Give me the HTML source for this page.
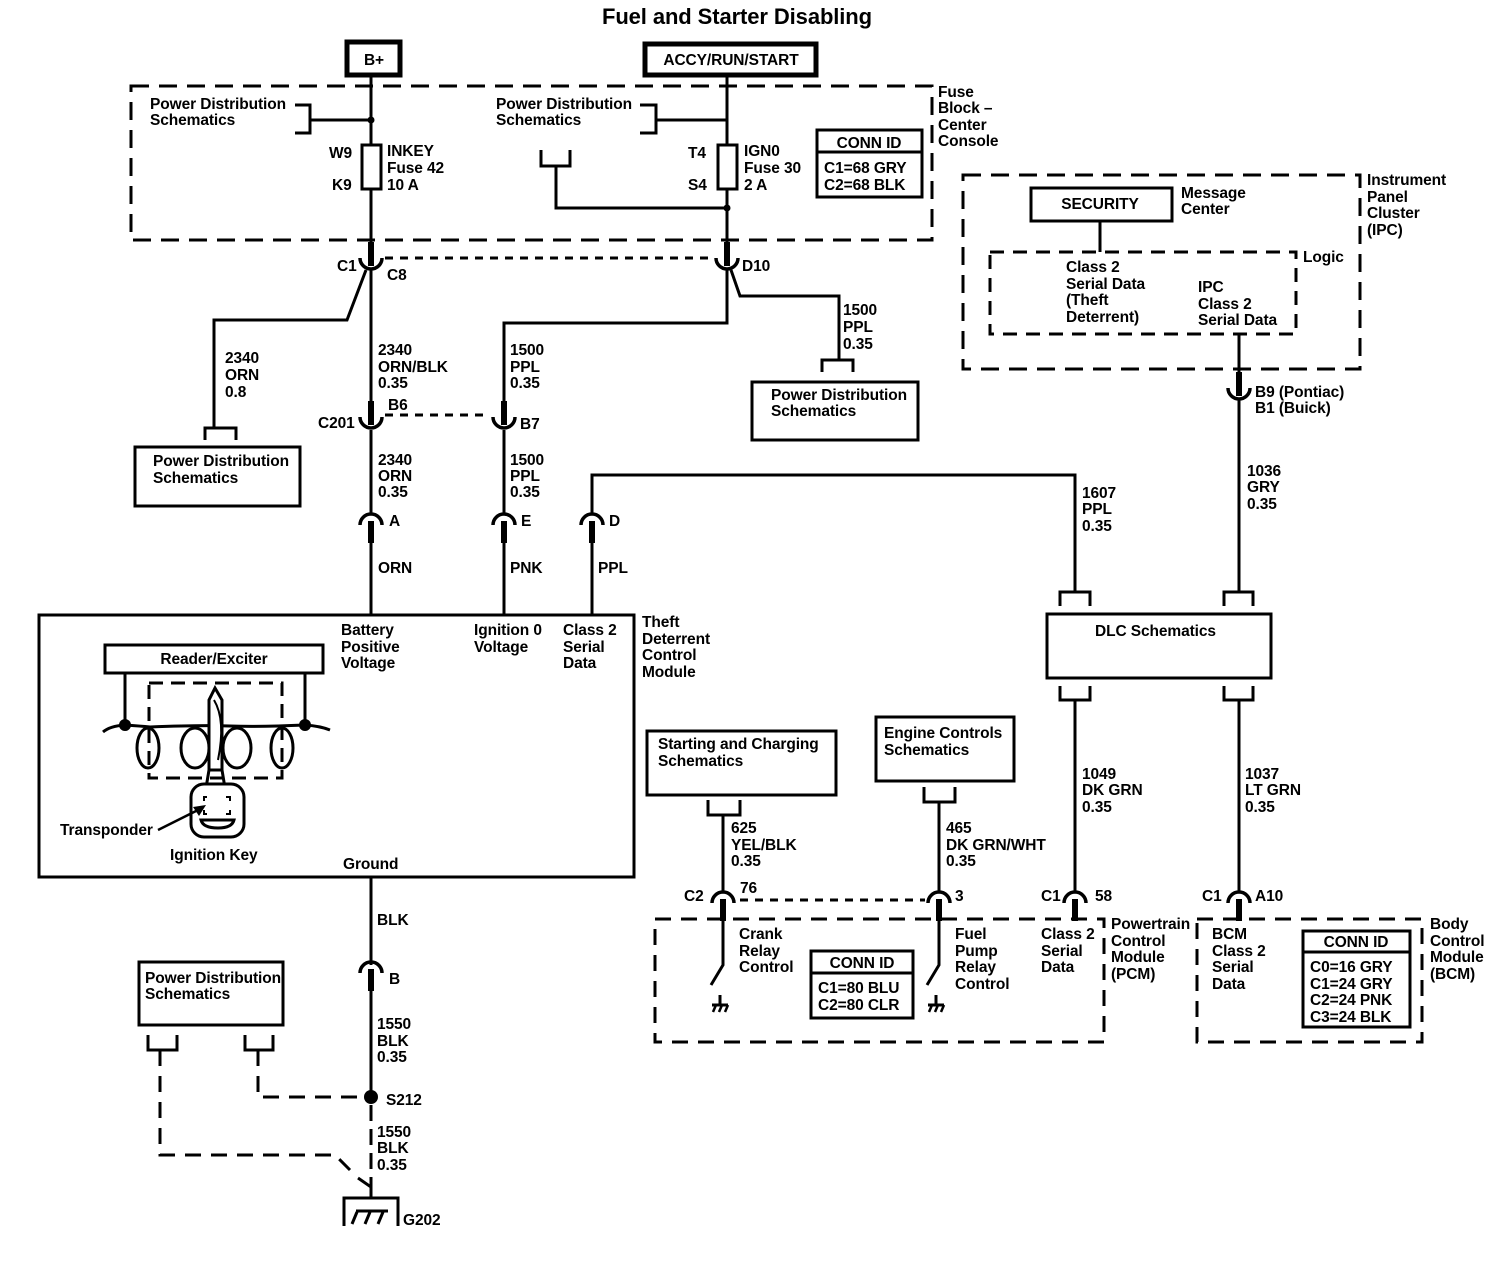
<!DOCTYPE html>
<html><head><meta charset="utf-8"><style>
html,body{margin:0;padding:0;background:#fff}
svg{display:block}
text{font-family:"Liberation Sans",sans-serif;font-weight:bold;font-size:15.5px;fill:#000;letter-spacing:-0.1px}
</style></head><body>
<svg width="1502" height="1264" viewBox="0 0 1502 1264" xmlns="http://www.w3.org/2000/svg">
<defs>
<g id="cup"><path d="M-11,0 A11,11 0 0 0 11,0" fill="none" stroke="#000" stroke-width="3.5"/><rect x="-3" y="-16" width="6" height="24" fill="#000"/></g>
<g id="cap"><path d="M-11,0 A11,11 0 0 1 11,0" fill="none" stroke="#000" stroke-width="3.5"/><rect x="-3" y="-4" width="6" height="22" fill="#000"/></g>
<g id="gnd"><line x1="0" y1="0" x2="0" y2="10" stroke="#000" stroke-width="3"/><line x1="-8" y1="10" x2="8" y2="10" stroke="#000" stroke-width="3"/><path d="M-7,17 L-4,10 M-1,17 L2,10 M5,17 L8,10" stroke="#000" stroke-width="2.5"/></g>
</defs>
<g fill="none" stroke="#000" stroke-width="3">
<rect x="347" y="42" width="53" height="33" stroke-width="5"/>
<rect x="645" y="44" width="171" height="31" stroke-width="5"/>
<rect x="131" y="86" width="801" height="154" stroke-dasharray="18,10"/>
<line x1="371" y1="77" x2="371" y2="245"/>
<line x1="727" y1="77" x2="727" y2="245"/>
<rect x="362" y="145" width="19" height="44" fill="#fff"/>
<rect x="718" y="145" width="19" height="44" fill="#fff"/>
<path d="M295,105 H310 V133 H295 M310,120 H371"/>
<path d="M640,105 H656 V133 H640 M656,120 H727"/>
<path d="M541,150 V166 H570 V150 M556,166 V208 H727"/>
<rect x="817" y="130" width="105" height="67"/>
<line x1="817" y1="152" x2="922" y2="152"/>
<line x1="385" y1="258" x2="712" y2="258" stroke-dasharray="8,7"/>
<path d="M371,268 V405"/>
<path d="M366,270 L347,320 H214 V428"/>
<path d="M205,440 V428 H236 V440"/>
<rect x="135" y="447" width="165" height="59"/>
<path d="M731,270 L740,296 H839 V360"/>
<path d="M822,372 V360 H853 V372"/>
<rect x="752" y="382" width="166" height="58"/>
<path d="M727,268 V323 H504 V405"/>
<line x1="385" y1="415" x2="490" y2="415" stroke-dasharray="8,7"/>
<path d="M371,430 V515 M504,430 V515"/>
<path d="M592,515 V475 H1075 V592"/>
<path d="M371,540 V615 M504,540 V615 M592,540 V615"/>
<rect x="39" y="615" width="595" height="262"/>
<rect x="105" y="645" width="218" height="28"/>
<path d="M125,673 V725 M305,673 V725"/>
<path d="M103,732 Q110,726 125,725 Q140,726 150,727 Q200,725 230,726 Q260,727 305,725 Q320,726 330,730"/>
<rect x="149" y="683" width="133" height="95" stroke-dasharray="14,8"/>
<ellipse cx="148" cy="748" rx="11" ry="20"/>
<ellipse cx="195" cy="748" rx="14" ry="20"/>
<ellipse cx="237" cy="748" rx="14" ry="20"/>
<ellipse cx="282" cy="748" rx="11" ry="20"/>
<path d="M209,770 V700 L215,688 L222,700 V770 Z" fill="#fff"/>
<path d="M214,700 Q226,720 218,760" stroke-width="2"/>
<path d="M209,770 L206,788 M222,770 L225,788"/>
<rect x="191" y="784" width="53" height="53" rx="13" fill="#fff"/>
<path d="M201,820 H234 Q232,828 218,828 Q203,828 201,820 Z" fill="#fff"/>
<path d="M207,797 h-3 v4 M226,797 h4 v4 M207,814 h-3 v-4 M226,814 h4 v-4" stroke-width="2"/>
<path d="M158,830 L198,810" stroke-width="2.5"/>
<path d="M371,877 V965 M371,985 V1097"/>
<line x1="371" y1="1105" x2="371" y2="1195" stroke-dasharray="16,8"/>
<rect x="139" y="962" width="144" height="63"/>
<path d="M148,1035 V1050 H177 V1035 M245,1035 V1050 H273 V1035"/>
<path d="M160,1050 V1155 H335 L350,1170" stroke-dasharray="16,10"/>
<path d="M258,1050 V1097 H371" stroke-dasharray="16,10"/>
<path d="M344,1226 V1198 H398 V1226 M371,1198 V1187 L358,1178"/>
<path d="M352,1224 L357,1212 M365,1224 L370,1212 M378,1224 L383,1212" stroke-width="3"/>
<line x1="356" y1="1211" x2="388" y2="1211"/>
<rect x="963" y="175" width="397" height="194" stroke-dasharray="18,10"/>
<rect x="1031" y="188" width="141" height="33"/>
<line x1="1100" y1="221" x2="1100" y2="252"/>
<rect x="990" y="252" width="306" height="82" stroke-dasharray="14,9"/>
<path d="M1239,334 V380 M1239,400 V592"/>
<path d="M1060,606 V592 H1090 V606 M1224,606 V592 H1253 V606"/>
<rect x="1047" y="614" width="224" height="64"/>
<path d="M1060,686 V700 H1090 V686 M1224,686 V700 H1253 V686"/>
<path d="M1075,700 V893 M1239,700 V893"/>
<rect x="647" y="731" width="189" height="64"/>
<path d="M708,800 V815 H740 V800 M723,815 V893"/>
<rect x="876" y="717" width="138" height="64"/>
<path d="M924,787 V802 H955 V787 M939,802 V893"/>
<line x1="740" y1="900" x2="925" y2="900" stroke-dasharray="8,7"/>
<path d="M723,910 V965 L711,985 M939,910 V965 L927,985"/>
<rect x="655" y="919" width="449" height="123" stroke-dasharray="16,10"/>
<rect x="811" y="951" width="102" height="67"/>
<line x1="811" y1="973" x2="913" y2="973"/>
<rect x="1197" y="919" width="225" height="123" stroke-dasharray="16,10"/>
<rect x="1303" y="931" width="107" height="96"/>
<line x1="1303" y1="952" x2="1410" y2="952"/>
</g>
<polygon points="206,805 193,807 199,816"/>
<circle cx="371" cy="120" r="3.5"/><circle cx="727" cy="208" r="3.5"/>
<circle cx="125" cy="725" r="6"/><circle cx="305" cy="725" r="6"/>
<circle cx="371" cy="1097" r="7"/>
<use href="#cup" x="371" y="258"/><use href="#cup" x="727" y="258"/>
<use href="#cup" x="371" y="417"/><use href="#cup" x="504" y="417"/>
<use href="#cup" x="1239" y="388"/>
<use href="#cap" x="371" y="525"/><use href="#cap" x="504" y="525"/><use href="#cap" x="592" y="525"/>
<use href="#cap" x="371" y="973"/>
<use href="#cap" x="723" y="903"/><use href="#cap" x="939" y="903"/>
<use href="#cap" x="1075" y="903"/><use href="#cap" x="1239" y="903"/>
<use href="#gnd" x="720" y="995"/><use href="#gnd" x="936" y="995"/>

<text x="737" y="24" text-anchor="middle" style="font-size:22px">Fuel and Starter Disabling</text>
<text x="374" y="65" text-anchor="middle">B+</text>
<text x="731" y="65" text-anchor="middle">ACCY/RUN/START</text>
<text x="150" y="109">Power Distribution</text><text x="150" y="125">Schematics</text>
<text x="496" y="109">Power Distribution</text><text x="496" y="125">Schematics</text>
<text x="329" y="158">W9</text><text x="332" y="190">K9</text>
<text x="387" y="156">INKEY</text><text x="387" y="173">Fuse 42</text><text x="387" y="190">10 A</text>
<text x="688" y="158">T4</text><text x="688" y="190">S4</text>
<text x="744" y="156">IGN0</text><text x="744" y="173">Fuse 30</text><text x="744" y="190">2 A</text>
<text x="869" y="148" text-anchor="middle">CONN ID</text>
<text x="824" y="173">C1=68 GRY</text><text x="824" y="190">C2=68 BLK</text>
<text x="938" y="97">Fuse</text><text x="938" y="113">Block –</text><text x="938" y="130">Center</text><text x="938" y="146">Console</text>
<text x="337" y="271">C1</text><text x="387" y="280">C8</text><text x="742" y="271">D10</text>
<text x="225" y="363">2340</text><text x="225" y="380">ORN</text><text x="225" y="397">0.8</text>
<text x="378" y="355">2340</text><text x="378" y="372">ORN/BLK</text><text x="378" y="388">0.35</text>
<text x="510" y="355">1500</text><text x="510" y="372">PPL</text><text x="510" y="388">0.35</text>
<text x="843" y="315">1500</text><text x="843" y="332">PPL</text><text x="843" y="349">0.35</text>
<text x="153" y="466">Power Distribution</text><text x="153" y="483">Schematics</text>
<text x="771" y="400">Power Distribution</text><text x="771" y="416">Schematics</text>
<text x="318" y="428">C201</text><text x="388" y="410">B6</text><text x="520" y="429">B7</text>
<text x="378" y="465">2340</text><text x="378" y="481">ORN</text><text x="378" y="497">0.35</text>
<text x="510" y="465">1500</text><text x="510" y="481">PPL</text><text x="510" y="497">0.35</text>
<text x="389" y="526">A</text><text x="521" y="526">E</text><text x="609" y="526">D</text>
<text x="378" y="573">ORN</text><text x="510" y="573">PNK</text><text x="598" y="573">PPL</text>
<text x="1082" y="498">1607</text><text x="1082" y="514">PPL</text><text x="1082" y="531">0.35</text>
<text x="341" y="635">Battery</text><text x="341" y="652">Positive</text><text x="341" y="668">Voltage</text>
<text x="474" y="635">Ignition 0</text><text x="474" y="652">Voltage</text>
<text x="563" y="635">Class 2</text><text x="563" y="652">Serial</text><text x="563" y="668">Data</text>
<text x="642" y="627">Theft</text><text x="642" y="644">Deterrent</text><text x="642" y="660">Control</text><text x="642" y="677">Module</text>
<text x="214" y="664" text-anchor="middle">Reader/Exciter</text>
<text x="60" y="835">Transponder</text><text x="170" y="860">Ignition Key</text>
<text x="343" y="869">Ground</text>
<text x="377" y="925">BLK</text><text x="389" y="984">B</text>
<text x="145" y="983">Power Distribution</text><text x="145" y="999">Schematics</text>
<text x="377" y="1029">1550</text><text x="377" y="1046">BLK</text><text x="377" y="1062">0.35</text>
<text x="386" y="1105">S212</text>
<text x="377" y="1137">1550</text><text x="377" y="1153">BLK</text><text x="377" y="1170">0.35</text>
<text x="403" y="1225">G202</text>
<text x="1100" y="209" text-anchor="middle">SECURITY</text>
<text x="1181" y="198">Message</text><text x="1181" y="214">Center</text>
<text x="1367" y="185">Instrument</text><text x="1367" y="202">Panel</text><text x="1367" y="218">Cluster</text><text x="1367" y="235">(IPC)</text>
<text x="1303" y="262">Logic</text>
<text x="1066" y="272">Class 2</text><text x="1066" y="289">Serial Data</text><text x="1066" y="305">(Theft</text><text x="1066" y="322">Deterrent)</text>
<text x="1198" y="292">IPC</text><text x="1198" y="309">Class 2</text><text x="1198" y="325">Serial Data</text>
<text x="1255" y="397">B9 (Pontiac)</text><text x="1255" y="413">B1 (Buick)</text>
<text x="1247" y="476">1036</text><text x="1247" y="492">GRY</text><text x="1247" y="509">0.35</text>
<text x="1095" y="636">DLC Schematics</text>
<text x="1082" y="779">1049</text><text x="1082" y="795">DK GRN</text><text x="1082" y="812">0.35</text>
<text x="1245" y="779">1037</text><text x="1245" y="795">LT GRN</text><text x="1245" y="812">0.35</text>
<text x="658" y="749">Starting and Charging</text><text x="658" y="766">Schematics</text>
<text x="884" y="738">Engine Controls</text><text x="884" y="755">Schematics</text>
<text x="731" y="833">625</text><text x="731" y="850">YEL/BLK</text><text x="731" y="866">0.35</text>
<text x="946" y="833">465</text><text x="946" y="850">DK GRN/WHT</text><text x="946" y="866">0.35</text>
<text x="684" y="901">C2</text><text x="740" y="893">76</text><text x="955" y="901">3</text>
<text x="1041" y="901">C1</text><text x="1095" y="901">58</text>
<text x="1202" y="901">C1</text><text x="1255" y="901">A10</text>
<text x="739" y="939">Crank</text><text x="739" y="956">Relay</text><text x="739" y="972">Control</text>
<text x="955" y="939">Fuel</text><text x="955" y="956">Pump</text><text x="955" y="972">Relay</text><text x="955" y="989">Control</text>
<text x="1041" y="939">Class 2</text><text x="1041" y="956">Serial</text><text x="1041" y="972">Data</text>
<text x="1111" y="929">Powertrain</text><text x="1111" y="946">Control</text><text x="1111" y="962">Module</text><text x="1111" y="979">(PCM)</text>
<text x="862" y="968" text-anchor="middle">CONN ID</text>
<text x="818" y="993">C1=80 BLU</text><text x="818" y="1010">C2=80 CLR</text>
<text x="1212" y="939">BCM</text><text x="1212" y="956">Class 2</text><text x="1212" y="972">Serial</text><text x="1212" y="989">Data</text>
<text x="1356" y="947" text-anchor="middle">CONN ID</text>
<text x="1310" y="972">C0=16 GRY</text><text x="1310" y="989">C1=24 GRY</text><text x="1310" y="1005">C2=24 PNK</text><text x="1310" y="1022">C3=24 BLK</text>
<text x="1430" y="929">Body</text><text x="1430" y="946">Control</text><text x="1430" y="962">Module</text><text x="1430" y="979">(BCM)</text>
</svg>
</body></html>
